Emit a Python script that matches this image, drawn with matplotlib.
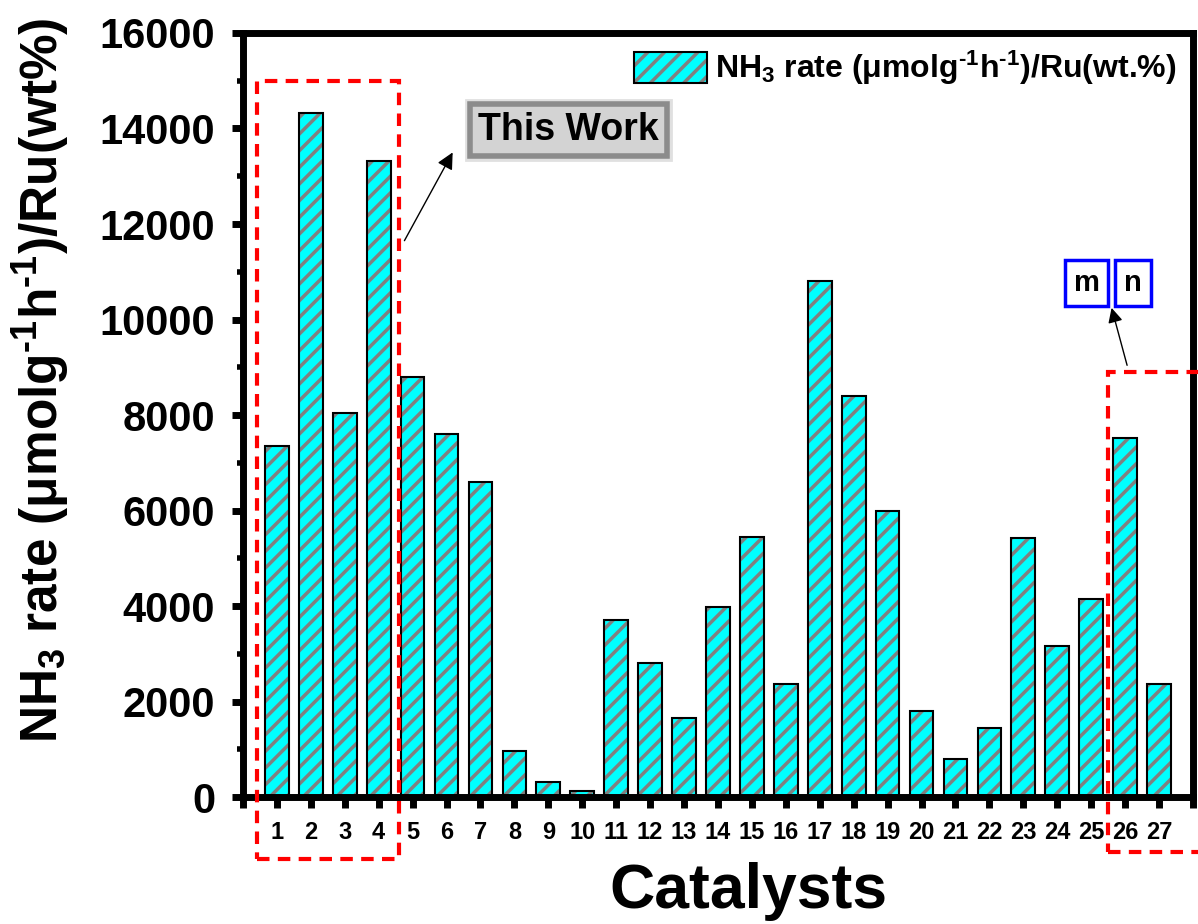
import numpy as np
import matplotlib
matplotlib.use("Agg")
import matplotlib.pyplot as plt
from matplotlib.patches import Rectangle

plt.rcParams['font.family'] = ['Liberation Sans', 'DejaVu Sans']
plt.rcParams['font.weight'] = 'bold'
plt.rcParams['mathtext.fontset'] = 'custom'
plt.rcParams['mathtext.rm'] = 'Liberation Sans:bold'
plt.rcParams['mathtext.it'] = 'Liberation Sans:bold'
plt.rcParams['mathtext.bf'] = 'Liberation Sans:bold'
plt.rcParams['hatch.linewidth'] = 2.5

# catalyst numbers and their NH3 rate normalised by Ru loading
catalysts = list(range(1, 28))
rates = [7350, 14320, 8040, 13320, 8800, 7600, 6600, 960, 310, 120,
         3710, 2800, 1650, 3980, 5450, 2370, 10800, 8400, 5990, 1800,
         800, 1450, 5430, 3160, 4150, 7520, 2370]
series_label = r'NH$_3$ rate (μmolg$^{‐1}$h$^{‐1}$)/Ru(wt.%)'
y_title = r'NH$_3$ rate (μmolg$^{‐1}$h$^{‐1}$)/Ru(wt%)'

fig = plt.figure(figsize=(11.98, 9.24), dpi=100)
ax = fig.add_axes([0.2028, 0.1374, 0.793, 0.8269])

# hatched fill first, then a black outline on top
b1 = ax.bar(catalysts, rates, width=0.7, color='#00FFFF', edgecolor='#808080',
            hatch='//', linewidth=0, zorder=2)
b2 = ax.bar(catalysts, rates, width=0.7, facecolor='none', edgecolor='black',
            linewidth=1.5, zorder=3)

ax.set_xlim(0, 28)
ax.set_ylim(0, 16000)
ax.set_xticks(range(0, 29))
ax.set_xticklabels([''] + [str(c) for c in catalysts] + [''])
ax.set_yticks(np.arange(0, 16001, 2000))
ax.set_yticks(np.arange(1000, 16000, 2000), minor=True)

for s in ax.spines.values():
    s.set_linewidth(5)
ax.tick_params(axis='both', which='major', direction='out', length=8, width=5)
ax.tick_params(axis='y', which='minor', direction='out', length=4, width=4)
ax.tick_params(axis='y', labelsize=30, pad=12)
ax.tick_params(axis='x', labelsize=17, pad=9)

ax.set_ylabel(y_title, fontsize=37, fontweight='bold')
ax.yaxis.set_label_coords(-0.18, 0.546)
ax.set_xlabel('Catalysts', fontsize=45, fontweight='bold', va='top')
ax.xaxis.set_label_coords(0.532, -0.085)

leg = ax.legend([(b1[0], b2[0])], [series_label], loc='upper right',
                frameon=False, fontsize=23, handlelength=2.3, handleheight=1.1,
                borderaxespad=0.1, handletextpad=0.25)

# dashed boxes around this work (1-4) and catalysts 26-27
red_kw = dict(fill=False, edgecolor='red', linewidth=3, linestyle=(0, (3, 2)),
              clip_on=False, zorder=5)
ax.add_patch(Rectangle((0.4, -1300), 4.2, 16300, **red_kw))
ax.add_patch(Rectangle((25.5, -1150), 4.0, 10050, **red_kw))

ax.annotate('', xy=(6.22, 13550), xytext=(4.72, 11600),
            arrowprops=dict(arrowstyle='-|>', color='black', lw=1,
                            mutation_scale=25))
# outer light frame plus the darker inner frame of the label
ax.text(9.6, 13970, 'This Work', fontsize=27, fontweight='bold',
        ha='center', va='center', zorder=6, color='none',
        bbox=dict(boxstyle='square,pad=0.33', facecolor='#E6E6E6',
                  edgecolor='#E0E0E0', linewidth=2))
ax.text(9.6, 13970, 'This Work', fontsize=27, fontweight='bold',
        ha='center', va='center', zorder=7,
        bbox=dict(boxstyle='square,pad=0.22', facecolor='#D3D3D3',
                  edgecolor='#8C8C8C', linewidth=4))

ax.annotate('', xy=(25.58, 10300), xytext=(26.08, 8985),
            arrowprops=dict(arrowstyle='-|>', color='black', lw=1,
                            mutation_scale=22))
for lab, xp in [('m', 24.87), ('n', 26.23)]:
    ax.text(xp, 10760, lab, fontsize=21, fontweight='bold', ha='center',
            va='center', zorder=6,
            bbox=dict(boxstyle='square,pad=0.3', facecolor='white',
                      edgecolor='blue', linewidth=2.5))

fig.savefig('out.png', dpi=100)
